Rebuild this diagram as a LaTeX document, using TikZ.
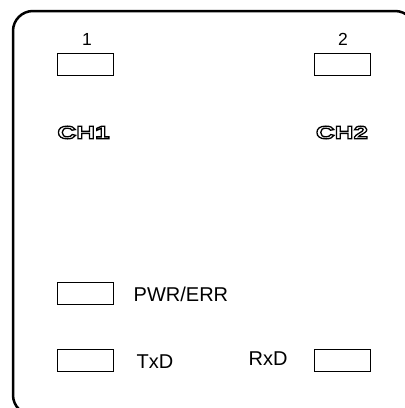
\documentclass[tikz,border=0pt]{standalone}
\usepackage{fontspec}
\setmainfont{Liberation Sans}
\newfontfamily\chfont[FakeStretch=1.45]{Liberation Sans Bold}
% hollow lettering: fill white, stroke black
\newcommand{\hollowtext}[1]{\textcolor{white}{\special{pdf:literal direct q 2 Tr 1.3 w 0 G}#1\special{pdf:literal direct Q}}}
\begin{document}
\begin{tikzpicture}[x=1pt,y=-1pt,
    led/.style={draw,line width=0.8pt,minimum width=56pt,minimum height=22pt,inner sep=0pt},
    lbl/.style={inner sep=0pt,font=\fontsize{20}{24}\selectfont},
    num/.style={inner sep=0pt,font=\fontsize{17.5}{20}\selectfont},
    chlbl/.style={inner sep=0pt,font=\chfont\fontsize{18}{21}\selectfont}]
    \useasboundingbox (0,0) rectangle (405,408);
    % housing, cut off at the right and bottom
    \begin{scope}
    \clip (0,0) rectangle (405,408);
    \draw[line width=2.5pt,rounded corners=20pt] (13,11) rectangle (415,415);
    \end{scope}
    % channel indicators
    \node[led] (led1) at (85,64.5) {};
    \node[led] (led2) at (342.5,64.5) {};
    \node[num,anchor=base] (n1) at (87,45) {1};
    \node[num,anchor=base] (n2) at (343,45) {2};
    \node[chlbl] (ch1) at (83.5,132.5) {\hollowtext{CH1}};
    \node[chlbl] (ch2) at (342,132.5) {\hollowtext{CH2}};
    % status indicators
    \node[led] (pwr) at (85,293) {};
    \node[led] (txd) at (85,360) {};
    \node[led] (rxd) at (342.5,360) {};
    \node[lbl,anchor=base west] (pwrlbl) at (133.5,301) {PWR/ERR};
    \node[lbl,anchor=base west] (txdlbl) at (136.5,368) {TxD};
    \node[lbl,anchor=base west] (rxdlbl) at (248.5,365) {RxD};
\end{tikzpicture}
\end{document}
